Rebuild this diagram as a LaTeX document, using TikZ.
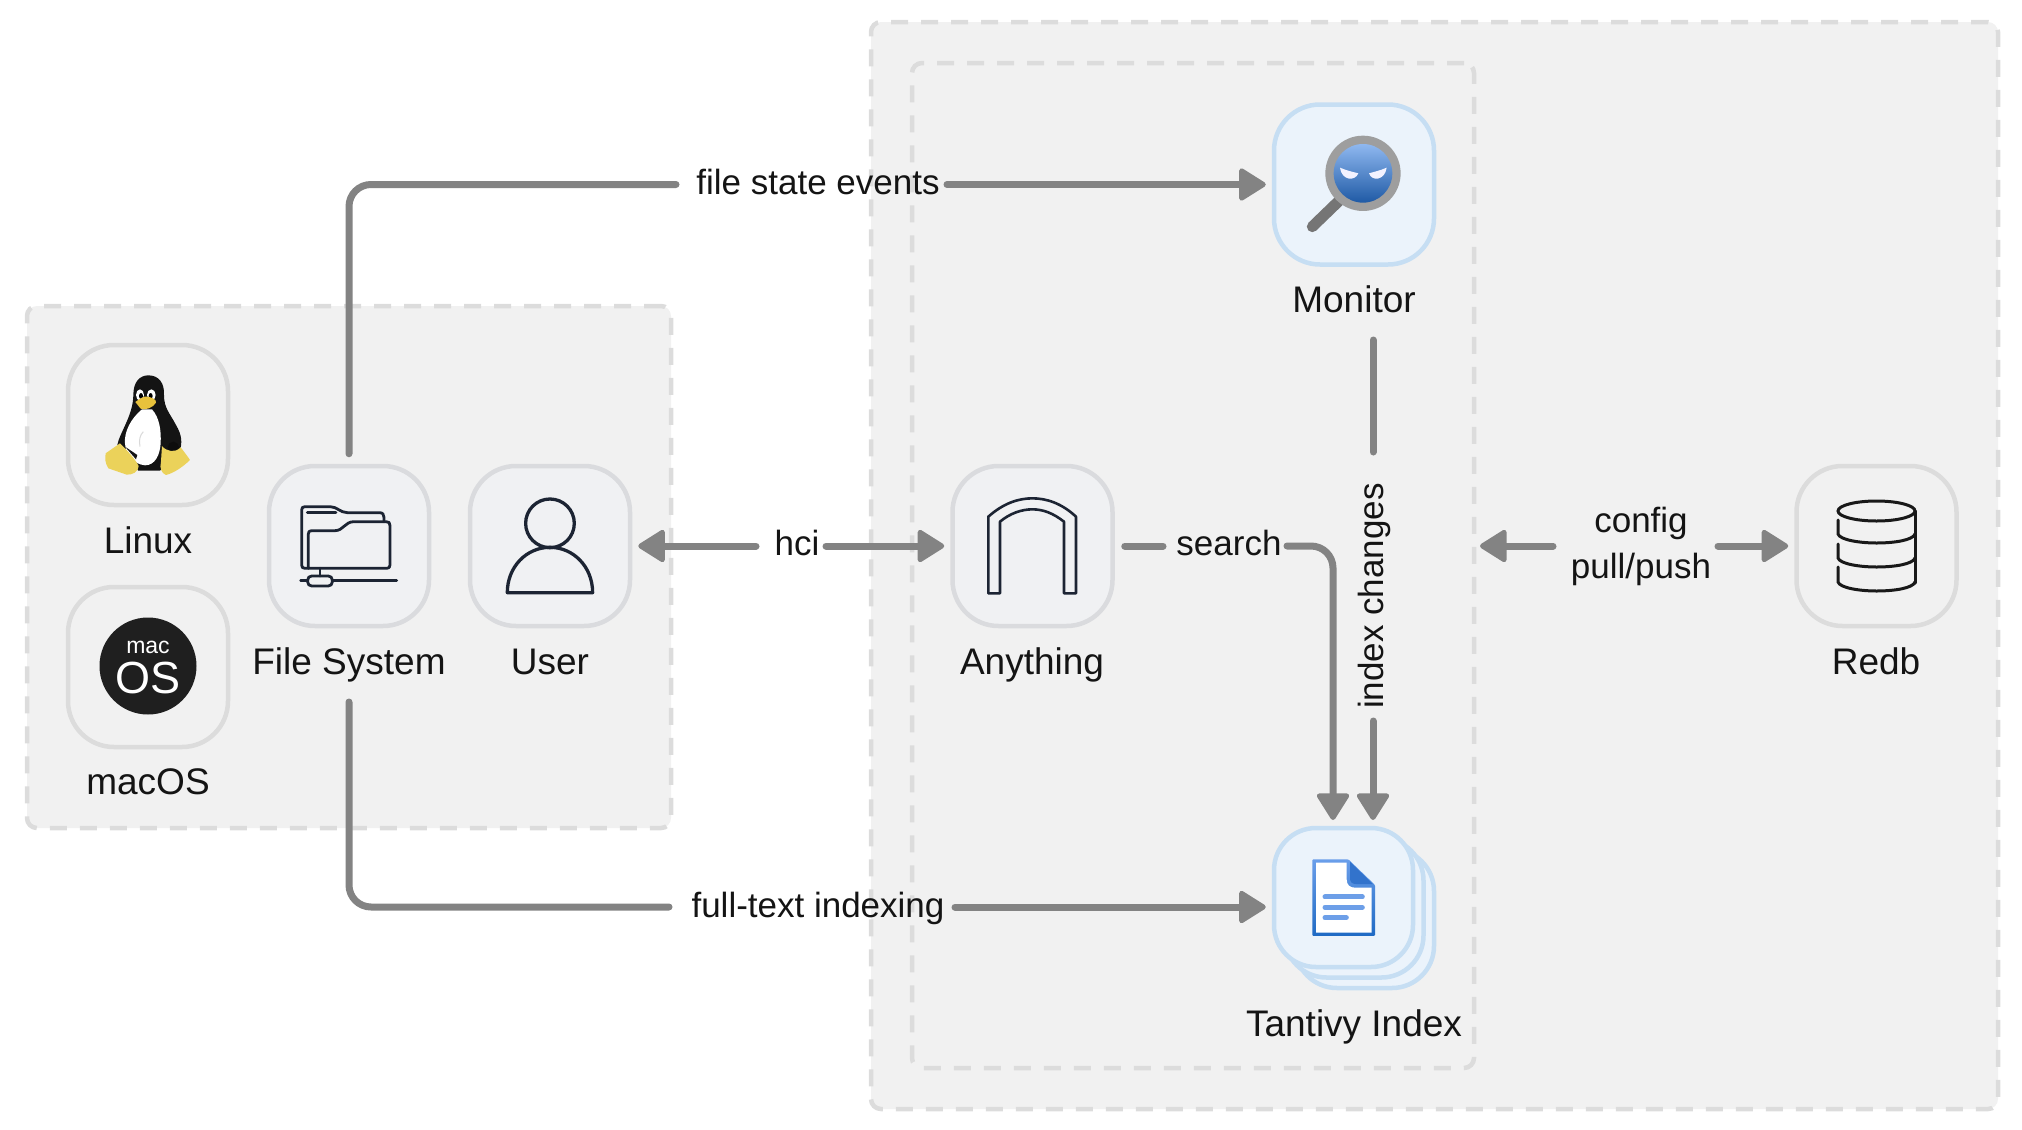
\documentclass[tikz,border=0pt]{standalone}
\usepackage{fontspec}
\setmainfont{Liberation Sans}
\usetikzlibrary{arrows.meta}
\definecolor{grp}{HTML}{F1F1F1}
\definecolor{grpline}{HTML}{DCDCDC}
\definecolor{conn}{HTML}{838383}
\definecolor{ink}{HTML}{1C2433}
\definecolor{bluefill}{HTML}{EBF3FB}
\definecolor{blueline}{HTML}{C6DEF3}
\definecolor{coolline}{HTML}{DADBDE}
\definecolor{coolfill}{HTML}{F0F1F3}
\definecolor{tuxfoot}{HTML}{EBD25A}
\definecolor{tuxbeak}{HTML}{E8C23C}
\definecolor{docline}{HTML}{6D9FE8}
\definecolor{doctop}{HTML}{6A9EEA}
\definecolor{docbot}{HTML}{1F6AC4}
\definecolor{docfold}{HTML}{3273CC}
\definecolor{lenstop}{HTML}{8FB8F0}
\definecolor{lensbot}{HTML}{1F5AA5}
\tikzset{
  x=1pt,y=-1pt,
  group/.style={draw=grpline,fill=grp,line width=4.5pt,dash pattern=on 17pt off 13pt,rounded corners=10pt,inner sep=0pt,outer sep=0pt,anchor=north west},
  tile/.style={rectangle,draw=grpline,line width=4.5pt,rounded corners=46pt,minimum width=160pt,minimum height=160pt,inner sep=0pt,fill=grp},
  cooltile/.style={tile,draw=coolline,fill=coolfill},
  bluetile/.style={tile,draw=blueline,fill=bluefill},
  stacktile/.style={bluetile,minimum width=139pt,minimum height=139pt,rounded corners=42pt},
  lbl/.style={anchor=base,font=\fontsize{37pt}{44pt}\selectfont,text=black!92,inner sep=0pt},
  elbl/.style={lbl,font=\fontsize{35pt}{46pt}\selectfont},
  wire/.style={draw=conn,line width=7pt,line cap=round,line join=round},
  tip/.style={-{Triangle[length=29pt,width=35pt,line width=5pt,round]}},
  icon/.style={draw=ink,line width=2.8pt,line join=round,line cap=round},
}
\begin{document}
\begin{tikzpicture}
\useasboundingbox (0,0) rectangle (2022,1130);
% groups
\node[group,minimum width=644pt,minimum height=522pt] (left) at (27,306) {};
\node[group,minimum width=1127pt,minimum height=1087pt] (right) at (871,22) {};
\node[group,minimum width=562pt,minimum height=1005pt] (inner) at (912,63) {};
% tiles
\node[tile] (linux) at (148,425) {};
\node[tile] (mac) at (148,667) {};
\node[cooltile] (fs) at (349,546) {};
\node[cooltile] (user) at (550,546) {};
\node[cooltile] (any) at (1032.5,546) {};
\node[tile] (redb) at (1876.5,546) {};
\node[bluetile] (monitor) at (1354,184.5) {};
\node[stacktile] (tan3) at (1364.5,918.5) {};
\node[stacktile] (tan2) at (1354,908) {};
\node[stacktile] (tan) at (1343.5,897.5) {};
% Linux penguin
\begin{scope}[shift={(60,340)},x=0.3333pt,y=-0.3333pt]
 \fill[black!92] (220,165) .. controls (220,125) and (240,106) .. (265,106)
   .. controls (297,106) and (314,130) .. (312,165)
   .. controls (312,205) and (330,220) .. (348,255)
   .. controls (366,285) and (368,310) .. (358,335)
   -- (300,392) -- (235,392) -- (172,315)
   .. controls (178,280) and (220,225) .. (220,165) -- cycle;
 \fill[white] (246,208) .. controls (213,235) and (192,275) .. (195,310)
   .. controls (197,345) and (220,372) .. (255,376)
   .. controls (285,376) and (300,345) .. (302,310)
   .. controls (304,270) and (298,232) .. (276,208) -- cycle;
 \draw[black!15,line width=1pt] (240,320) .. controls (236,300) and (240,285) .. (250,275);
 \fill[black!92] (195,320) -- (232,345) -- (228,358) -- cycle;
 \fill[black!95] (340,322) circle[radius=17];
 \fill[white] (240,165) ellipse[x radius=12,y radius=17];
 \fill[white] (274,165) ellipse[x radius=13,y radius=17];
 \fill[black] (243,168) ellipse[x radius=6,y radius=9];
 \fill[black] (272,168) ellipse[x radius=6,y radius=9];
 \fill[tuxbeak] (226,186) .. controls (240,176) and (250,168) .. (262,170)
   .. controls (275,172) and (290,178) .. (288,188)
   .. controls (280,203) and (255,212) .. (242,206) -- cycle;
 \fill[tuxfoot] (137,340) -- (180,310) .. controls (195,325) and (225,355) .. (236,378)
   .. controls (236,395) and (218,405) .. (200,404) -- (145,385) .. controls (135,370) and (135,355) .. (137,340) -- cycle;
 \fill[tuxfoot] (306,318) .. controls (320,335) and (345,340) .. (362,322)
   .. controls (372,335) and (382,348) .. (390,360) .. controls (370,380) and (340,400) .. (318,405)
   .. controls (305,400) and (298,385) .. (303,365) -- cycle;
\end{scope}
% macOS badge
\fill[black!88] (148,666) circle[radius=48.5];
\node[inner sep=0pt,text=white,font=\fontsize{23pt}{24pt}\selectfont] (mactext) at (148,647) {mac};
\node[inner sep=0pt,text=white,font=\fontsize{45pt}{48pt}\selectfont] (ostext) at (148,678) {OS};
% Folder icon
\begin{scope}[shift={(260,460)},x=0.3333pt,y=-0.3333pt]
 \draw[icon] (145,325) -- (135,325) .. controls (128,325) and (125,322) .. (125,315) -- (125,150)
   .. controls (125,143) and (128,140) .. (135,140) -- (210,140)
   .. controls (232,140) and (240,158) .. (262,158) -- (358,158)
   .. controls (368,158) and (372,163) .. (372,172) -- (372,185);
 \draw[icon] (145,325) -- (145,222) .. controls (145,215) and (148,212) .. (155,212) -- (225,212)
   .. controls (250,212) and (255,185) .. (282,185) -- (378,185)
   .. controls (387,185) and (390,188) .. (390,197) -- (390,315)
   .. controls (390,322) and (387,325) .. (380,325) -- (145,325);
 \draw[icon] (142,158) -- (228,158);
 \draw[icon] (180,325) -- (180,348);
 \draw[icon,rounded corners=4pt] (143,348) rectangle (217,378);
 \draw[icon] (122,362) -- (143,362) (217,362) -- (410,362);
\end{scope}
% User icon
\begin{scope}[shift={(260,460)},x=0.3333pt,y=-0.3333pt]
 \draw[icon,line width=3.3pt] (870,190) circle[radius=73];
 \draw[icon,line width=3.3pt] (742,398) .. controls (742,320) and (800,262) .. (870,262)
   .. controls (940,262) and (998,320) .. (998,398) -- cycle;
\end{scope}
% Anything icon
\begin{scope}[shift={(940,460)},x=0.3333pt,y=-0.3333pt]
 \draw[icon,line width=2.6pt,line cap=butt] (145,400) -- (145,170)
   .. controls (190,130) and (235,115) .. (277,115)
   .. controls (320,115) and (365,130) .. (408,170)
   -- (408,400) -- (372,400) -- (372,185)
   .. controls (340,160) and (310,148) .. (277,148)
   .. controls (245,148) and (210,160) .. (180,185)
   -- (180,400) -- cycle;
\end{scope}
% Redb icon
\begin{scope}[line width=3pt,draw=black!90,line cap=round]
 \draw (1876.5,511) ellipse[x radius=38.5,y radius=10];
 \draw (1915,511) -- (1915,583);
 \draw (1838,520) -- (1838,534) .. controls (1840,540) and (1860,543) .. (1876.5,543) .. controls (1895,543) and (1913,540) .. (1915,534);
 \draw (1838,544) -- (1838,558) .. controls (1840,564) and (1860,567) .. (1876.5,567) .. controls (1895,567) and (1913,564) .. (1915,558);
 \draw (1838,567) -- (1838,582) .. controls (1840,588) and (1860,591) .. (1876.5,591) .. controls (1895,591) and (1913,588) .. (1915,582);
\end{scope}
% Monitor icon
\begin{scope}[shift={(1240,80)},x=0.3333pt,y=-0.3333pt]
 \draw[line width=11pt,line cap=round,draw=black!54] (217,440) -- (305,355);
 \fill[black!38] (369,280) circle[radius=113];
 \shade[top color=lenstop,bottom color=lensbot] (369,280) circle[radius=88];
 \fill[white!95!blue] (300,263) .. controls (320,272) and (340,276) .. (355,280) .. controls (345,305) and (305,302) .. (300,263) -- cycle;
 \fill[white!95!blue] (440,263) .. controls (420,272) and (400,276) .. (387,280) .. controls (395,305) and (435,302) .. (440,263) -- cycle;
\end{scope}
% Document icon
\begin{scope}[shift={(1240,780)},x=0.3333pt,y=-0.3333pt]
 \shade[top color=doctop,bottom color=docbot,rounded corners=1pt] (217,238) -- (325,238) -- (405,315) -- (405,468) -- (217,468) -- cycle;
 \fill[white] (228,248) -- (320,248) -- (320,298) .. controls (320,315) and (330,323) .. (345,323) -- (395,323) -- (395,458) -- (228,458) -- cycle;
 \fill[docfold] (330,245) -- (398,312) -- (348,312) .. controls (336,312) and (330,306) .. (330,295) -- cycle;
 \draw[line width=5pt,line cap=round,draw=docline] (255,351) -- (367,351) (255,382) -- (367,382) (255,413) -- (319,413);
\end{scope}
% node labels
\node[lbl] (llinux) at (148,553) {Linux};
\node[lbl] (lmac) at (148,794) {macOS};
\node[lbl] (lfs) at (349,674) {File System};
\node[lbl] (luser) at (550,674) {User};
\node[lbl] (lany) at (1032,674) {Anything};
\node[lbl] (lredb) at (1876,674) {Redb};
\node[lbl] (lmon) at (1354,312) {Monitor};
\node[lbl] (ltan) at (1354,1036) {Tantivy Index};
% connector labels
\node[elbl] (efile) at (818,194) {file state events};
\node[elbl] (efull) at (818,917) {full-text indexing};
\node[elbl] (ehci) at (797,555) {hci};
\node[elbl] (esearch) at (1229,555) {search};
\node[elbl,rotate=90,anchor=center] (eindex) at (1374,596) {index changes};
\node[elbl,anchor=center,align=center] (econfig) at (1641,546) {config\\pull/push};
% free ends
\coordinate (fa) at (676,184.5);
\coordinate (fb) at (947,184.5);
\coordinate (ta) at (669,907);
\coordinate (tb) at (955,907);
\coordinate (ha) at (756,546);
\coordinate (hb) at (826,546);
\coordinate (sa) at (1163,546);
\coordinate (sb) at (1287,546);
\coordinate (sc) at (1333,820);
\coordinate (ia) at (1373,340);
\coordinate (ib) at (1373,452);
\coordinate (ic) at (1373,721);
\coordinate (id) at (1373,820);
\coordinate (ca) at (1553,546);
\coordinate (cb) at (1718,546);
\coordinate (fsb) at (349,702);
% connectors
\draw[wire,rounded corners=22pt,shorten <=10pt] (fs.north) |- (fa);
\draw[wire,tip,shorten >=6pt] (fb) -- (monitor.west);
\draw[wire,rounded corners=22pt] (fsb) |- (ta);
\draw[wire,tip,shorten >=6pt] (tb) -- (tan.west |- tb);
\draw[wire,tip,shorten >=6pt] (ha) -- (user.east);
\draw[wire,tip,shorten >=6pt] (hb) -- (any.west);
\draw[wire,shorten <=10pt] (any.east) -- (sa);
\draw[wire,tip,rounded corners=22pt] (sb) -| (sc);
\draw[wire] (ia) -- (ib);
\draw[wire,tip] (ic) -- (id);
\draw[wire,tip,shorten >=6pt] (ca) -- (inner.east |- ca);
\draw[wire,tip,shorten >=6pt] (cb) -- (redb.west);
\end{tikzpicture}
\end{document}
